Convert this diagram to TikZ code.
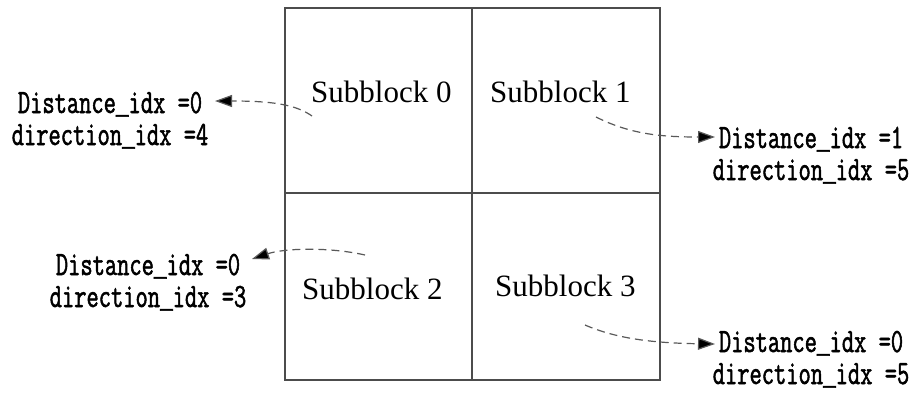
\documentclass[tikz,border=0pt]{standalone}
\usepackage{fontspec}
\setmainfont{Liberation Serif}
\newfontfamily\idxfont[FakeStretch=0.7,FakeBold=1.5]{Latin Modern Mono}
\newfontfamily\usfont[FakeStretch=0.62,FakeBold=1.5]{Liberation Mono}
\newcommand\us{{\usfont\_}}
\usetikzlibrary{arrows.meta}

\tikzset{
  blockline/.style={line width=1.3pt, draw=black!70},
  sublabel/.style={font=\fontsize{31}{31}\selectfont, inner sep=0pt, anchor=base west},
  idxlabel/.style={font=\idxfont\fontsize{34}{32}\selectfont, align=center, inner sep=0pt, anchor=base},
  movearrow/.style={draw=black!65, line width=1.2pt, dash pattern=on 8pt off 5pt,
    -{Triangle[length=17pt,width=12pt,fill=black]}}
}

\begin{document}
\begin{tikzpicture}[x=1pt,y=-1pt]
  \useasboundingbox (0,0) rectangle (921,392);

  % the four subblocks
  \draw[blockline] (285,8) rectangle (660,380);
  \draw[blockline] (472,8) -- (472,380);
  \draw[blockline] (285,193) -- (660,193);

  \node[sublabel] (sb0) at (311,102) {Subblock 0};
  \node[sublabel] (sb1) at (490,102) {Subblock 1};
  \node[sublabel] (sb2) at (302,299) {Subblock 2};
  \node[sublabel] (sb3) at (495,296) {Subblock 3};

  % distance / direction labels (base = second line)
  \node[idxlabel] (idx0) at (110,145) {Distance\us idx =0\\direction\us idx =4};
  \node[idxlabel] (idx1) at (811,180) {Distance\us idx =1\\direction\us idx =5};
  \node[idxlabel] (idx2) at (148,307) {Distance\us idx =0\\direction\us idx =3};
  \node[idxlabel] (idx3) at (811,384) {Distance\us idx =0\\direction\us idx =5};

  \coordinate (s0) at (312,116); \coordinate (t0) at (215,101);
  \coordinate (s1) at (596,117); \coordinate (t1) at (715,137);
  \coordinate (s2) at (365,255); \coordinate (t2) at (252,259);
  \coordinate (s3) at (585,325); \coordinate (t3) at (715,344);

  \draw[movearrow] (s0) .. controls (295,104) and (270,101) .. (t0);
  \draw[movearrow] (s1) .. controls (630,134) and (660,137) .. (t1);
  \draw[movearrow] (s2) .. controls (330,247) and (285,248) .. (t2);
  \draw[movearrow] (s3) .. controls (615,338) and (650,343) .. (t3);
\end{tikzpicture}
\end{document}
